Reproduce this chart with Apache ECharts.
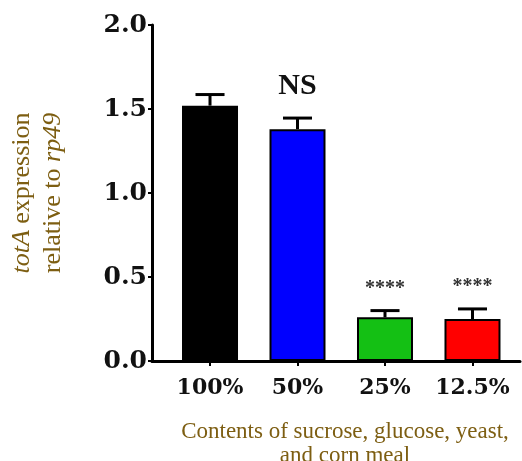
<!DOCTYPE html>
<html><head><meta charset="utf-8">
<script src="https://cdn.jsdelivr.net/npm/echarts@6/dist/echarts.min.js"></script>
<style>html,body{margin:0;padding:0;background:#fff}#c{width:522px;height:461px}</style>
</head><body><div id="c"></div>
<script>
const categories = ['100%', '50%', '25%', '12.5%'];
const means = [1.52, 1.38, 0.26, 0.25];
const errors = [0.066, 0.066, 0.04, 0.06];
const annotations = ['', 'NS', '****', '****'];
const barColors = ['#000000', '#0000ff', '#14c014', '#ff0000'];

const olive = '#7d5e12';
const chart = echarts.init(document.getElementById('c'));
chart.setOption({
  animation: false,
  grid: { left: 152, right: 2, top: 25, bottom: 100, containLabel: false, outerBoundsMode: 'none' },
  title: {
    text: 'Contents of sucrose, glucose, yeast,\nand corn meal',
    left: 340, top: 415, textAlign: 'center',
    textStyle: { fontFamily: 'Liberation Serif', fontWeight: 'normal', fontSize: 23, color: olive, lineHeight: 24 }
  },
  xAxis: {
    type: 'value', min: 0.337, max: 4.543,
    splitLine: { show: false },
    axisLine: { show: true, onZero: false, lineStyle: { color: '#000', width: 3 } },
    axisTick: { show: true, customValues: [1, 2, 3, 4], length: 5, lineStyle: { color: '#000', width: 2 } },
    axisLabel: {
      customValues: [1, 2, 3, 4], margin: 16,
      formatter: v => categories[Math.round(v) - 1] || '',
      fontFamily: 'DejaVu Serif', fontWeight: 'bold', fontSize: 22, color: '#111'
    }
  },
  yAxis: {
    type: 'value', min: 0, max: 2, interval: 0.5,
    splitLine: { show: false },
    axisLine: { show: true, lineStyle: { color: '#000', width: 3 } },
    axisTick: { show: true, length: 4, lineStyle: { color: '#000', width: 2 } },
    axisLabel: {
      formatter: v => v.toFixed(1), margin: 5,
      fontFamily: 'DejaVu Serif', fontWeight: 'bold', fontSize: 25, color: '#111'
    },
    name: '{i|totA} expression\nrelative to {i|rp49}',
    nameLocation: 'middle', nameRotate: 90, nameGap: 83,
    nameTextStyle: {
      fontFamily: 'Liberation Serif', fontSize: 26, color: olive, lineHeight: 31,
      rich: { i: { fontFamily: 'Liberation Serif', fontStyle: 'italic', fontSize: 26, color: olive } }
    }
  },
  series: [
    {
      type: 'custom',
      z: 1,
      data: means.map((m, i) => [i + 1, m, errors[i]]),
      renderItem: (params, api) => {
        const x = api.value(0), y = api.value(1), e = api.value(2);
        const base = api.coord([x, y]);
        const top = api.coord([x, y + e]);
        const half = api.size([0.166, 0])[0];
        const txt = annotations[params.dataIndex];
        const children = [
          { type: 'line', shape: { x1: base[0], y1: base[1], x2: top[0], y2: top[1] }, style: { stroke: '#000', lineWidth: 3 } },
          { type: 'line', shape: { x1: top[0] - half, y1: top[1], x2: top[0] + half, y2: top[1] }, style: { stroke: '#000', lineWidth: 3 } }
        ];
        if (txt) {
          const bold = txt === 'NS';
          children.push({
            type: 'text',
            style: {
              text: txt, x: top[0], y: top[1] - (bold ? 32 : 22),
              align: 'center', verticalAlign: 'middle',
              font: bold ? 'bold 30px "Liberation Serif"' : 'bold 20px "Liberation Serif"',
              fill: bold ? '#111' : '#333'
            }
          });
        }
        return { type: 'group', children };
      }
    },
    {
      type: 'bar', z: 2,
      barWidth: 56,
      data: means.map((m, i) => ({ value: [i + 1, m], itemStyle: { color: barColors[i] } })),
      itemStyle: { borderColor: '#000', borderWidth: 2 }
    }
  ]
});
</script></body></html>
